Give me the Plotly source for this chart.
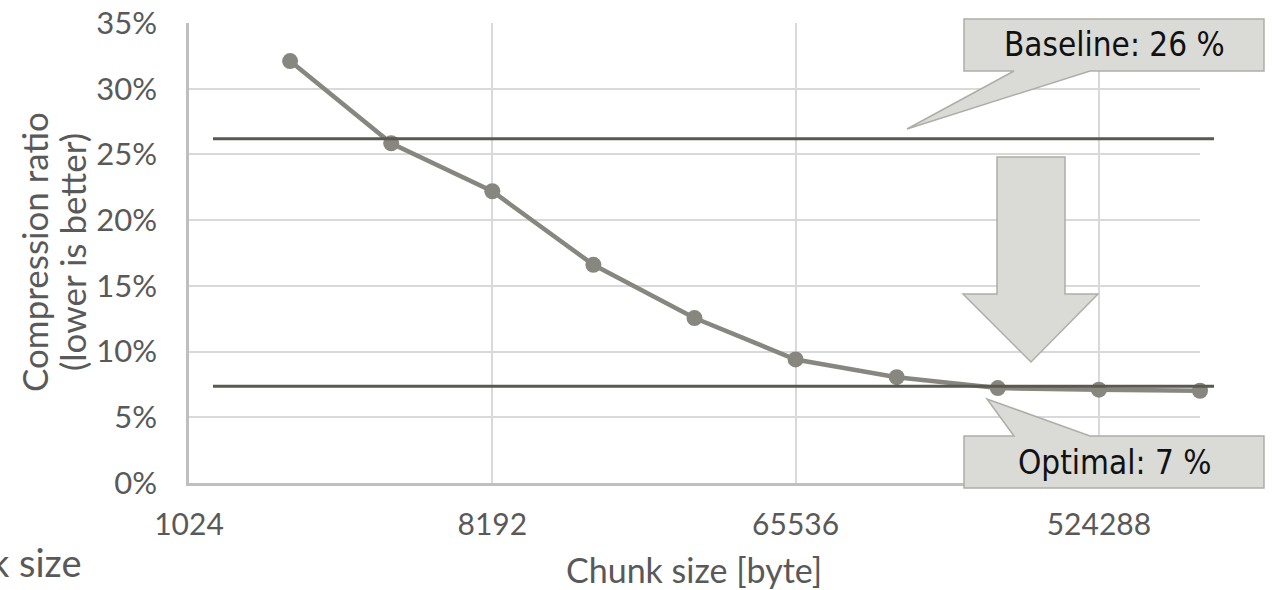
import plotly.graph_objects as go

# Compression ratio measured per chunk size
chunk_sizes = [2048, 4096, 8192, 16384, 32768, 65536, 131072, 262144, 524288, 1048576]
ratios = [32.1, 25.85, 22.2, 16.6, 12.55, 9.4, 8.05, 7.22, 7.1, 7.02]

baseline_ratio = 26.2
optimal_ratio = 7.37

x_tick_vals = [1024, 8192, 65536, 524288]
x_tick_text = ["1024", "8192", "65536", "524288"]
y_tick_vals = [0, 5, 10, 15, 20, 25, 30, 35]
y_tick_text = [f"{v}%" for v in y_tick_vals]

W, H = 1272, 590
ML, MR, MT, MB = 189, 72, 23, 107
PW, PH = W - ML - MR, H - MT - MB

TICK_FONT = "Lato, 'Open Sans', sans-serif"
CALLOUT_FONT = "'Liberation Sans Narrow', 'DejaVu Sans Condensed', 'Roboto', sans-serif"
TEXT_GREY = "#595959"
CALLOUT_FILL = "#dadad6"
CALLOUT_LINE = "#aeaea8"


def px(x):
    return (x - ML) / PW


def py(y):
    return (H - MB - y) / PH


def path(points):
    return "M " + " L ".join(f"{px(a):.5f},{py(b):.5f}" for a, b in points) + " Z"


def label(x, y, text, size, color=TEXT_GREY, family=TICK_FONT, **kw):
    return dict(x=px(x), y=py(y), xref="paper", yref="paper", text=text,
                showarrow=False, xanchor=kw.pop("xanchor", "center"),
                yanchor="middle", font=dict(family=family, size=size, color=color),
                **kw)


fig = go.Figure()

fig.add_trace(go.Scatter(
    x=chunk_sizes, y=ratios, mode="lines+markers",
    line=dict(color="#878780", width=4.5),
    marker=dict(color="#878780", size=16),
    cliponaxis=False, showlegend=False,
))

shapes = []
# horizontal reference levels
for level in (baseline_ratio, optimal_ratio):
    shapes.append(dict(type="line", xref="paper", yref="y",
                       x0=px(213), x1=px(1214), y0=level, y1=level,
                       line=dict(color="#595950", width=3), layer="above"))

# callout for the baseline level
shapes.append(dict(type="path", xref="paper", yref="paper",
                   path=path([(964, 19), (1264, 19), (1264, 71), (1090, 71),
                              (907, 129), (1014, 71), (964, 71)]),
                   fillcolor=CALLOUT_FILL, line=dict(color=CALLOUT_LINE, width=1.5),
                   layer="above"))
# callout for the optimal level
shapes.append(dict(type="path", xref="paper", yref="paper",
                   path=path([(964, 436), (1014, 436), (987, 399), (1090, 436),
                              (1264, 436), (1264, 488), (964, 488)]),
                   fillcolor=CALLOUT_FILL, line=dict(color=CALLOUT_LINE, width=1.5),
                   layer="above"))
# downward block arrow
shapes.append(dict(type="path", xref="paper", yref="paper",
                   path=path([(997, 157), (1065, 157), (1065, 294), (1098, 294),
                              (1031, 362), (963, 294), (997, 294)]),
                   fillcolor=CALLOUT_FILL, line=dict(color=CALLOUT_LINE, width=1.5),
                   layer="above"))

annotations = [
    label(1114, 45, f"Baseline: {round(baseline_ratio)} %", 33,
          color="#111111", family=CALLOUT_FONT),
    label(1114, 462, f"Optimal: {round(optimal_ratio)} %", 33,
          color="#111111", family=CALLOUT_FONT),
    label(34, 252, "Compression ratio", 35, textangle=-90),
    label(72, 252, "(lower is better)", 35, textangle=-90),
    label(694, 569, "Chunk size [byte]", 34),
    label(83, 562, "Chunk size", 38, xanchor="right"),
]

fig.update_layout(
    width=W, height=H,
    margin=dict(l=ML, r=MR, t=MT, b=MB, pad=0, autoexpand=False),
    paper_bgcolor="white", plot_bgcolor="white",
    shapes=shapes, annotations=annotations,
    showlegend=False,
)

fig.update_xaxes(
    type="log", range=[3.0103, 6.0206], automargin=False,
    tickvals=x_tick_vals, ticktext=x_tick_text,
    showgrid=True, gridcolor="#d9d9d9", gridwidth=1.5,
    showline=True, linecolor="#bfbfbf", linewidth=2.5,
    ticks="", ticklabelstandoff=13,
    tickfont=dict(family=TICK_FONT, size=30, color=TEXT_GREY),
    zeroline=False,
)
fig.update_yaxes(
    range=[0, 35], automargin=False,
    tickvals=y_tick_vals, ticktext=y_tick_text,
    showgrid=True, gridcolor="#d9d9d9", gridwidth=1.5,
    showline=True, linecolor="#bfbfbf", linewidth=2.5,
    ticks="", ticklabelstandoff=23,
    tickfont=dict(family=TICK_FONT, size=31, color=TEXT_GREY),
    zeroline=False,
)

fig.write_html("out.html")
